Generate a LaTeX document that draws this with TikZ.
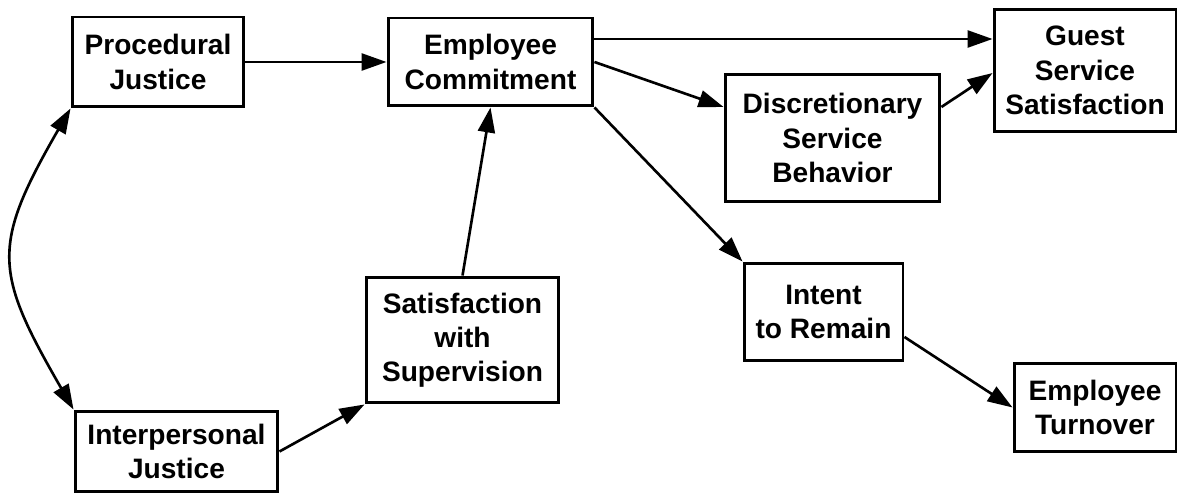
\documentclass[tikz,border=0pt]{standalone}
\usepackage{fontspec}
\setmainfont{Liberation Sans}
\usetikzlibrary{arrows.meta}

\begin{document}
\begin{tikzpicture}[x=0.02cm,y=-0.02cm,
  >={Triangle[length=0.5cm,width=0.34cm]},
  box/.style={draw,line width=1.7pt,align=center,inner sep=0pt,
    font=\fontsize{16}{19.5}\selectfont\bfseries},
  link/.style={line width=1.5pt,->}]
 \useasboundingbox (0,0) rectangle (1183,496);
 % boxes, centres in pixels of the scan
 \node[box,minimum width=3.44cm,minimum height=1.8cm] (pj) at (158,62) {Procedural\\Justice};
 \node[box,minimum width=4.1cm,minimum height=1.76cm] (ec) at (490.5,62) {Employee\\Commitment};
 \node[box,minimum width=3.64cm,minimum height=2.46cm] (gss) at (1085,70.5) {Guest\\Service\\Satisfaction};
 \node[box,minimum width=4.3cm,minimum height=2.56cm] (dsb) at (832.5,138) {Discretionary\\Service\\Behavior};
 \node[box,minimum width=3.86cm,minimum height=2.52cm] (sws) at (462.5,340) {Satisfaction\\with\\Supervision};
 \node[box,minimum width=4.06cm,minimum height=1.62cm] (ij) at (176.5,451.5) {Interpersonal\\Justice};
 \node[box,minimum width=3.18cm,minimum height=1.96cm] (itr) at (823.5,312) {Intent\\to Remain};
 \node[box,minimum width=3.24cm,minimum height=1.78cm] (et) at (1095,407.5) {Employee\\Turnover};

 % paths
 \draw[link] (pj) -- (ec);
 \draw[link] ([yshift=0.46cm]ec.east) -- ([yshift=0.46cm]ec.east -| gss.west);
 \draw[link] (ec.east) -- ([yshift=0.62cm]dsb.west);
 \draw[link] ([yshift=0.62cm]dsb.east) -- ([yshift=-0.05cm]gss.west);
 \draw[link] (ec.south east) -- (itr.north west);
 \draw[link] (sws.north) -- (ec.south);
 \draw[link] (ij.east) -- (sws.south west);
 \draw[link] ([yshift=-0.5cm]itr.east) -- (et.west);
 \draw[link,<->] (pj.south west) to[out=240,in=120,looseness=1.35] (ij.north west);
\end{tikzpicture}
\end{document}
